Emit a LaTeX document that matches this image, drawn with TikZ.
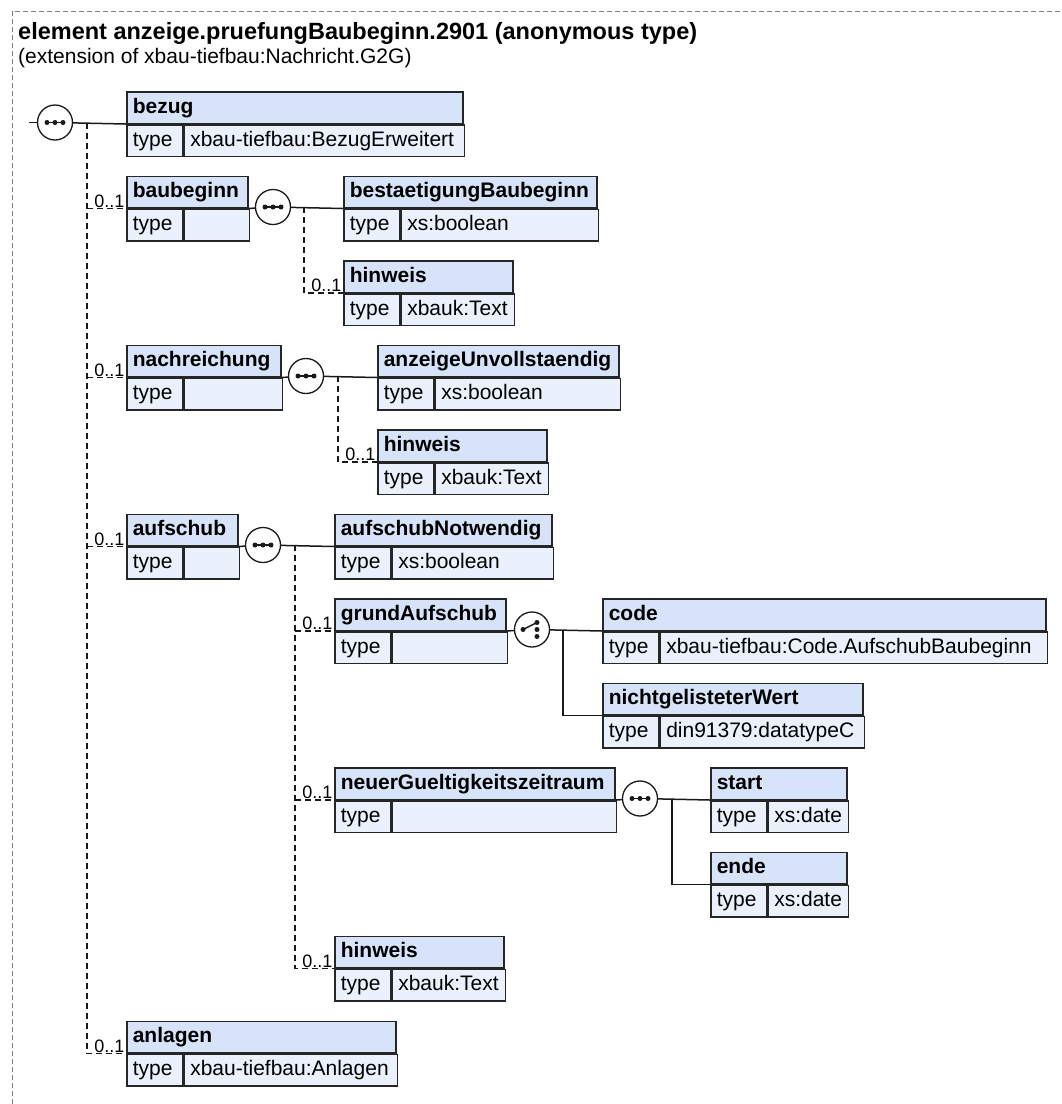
\documentclass[tikz,border=0pt]{standalone}
\usepackage{fontspec}
\setmainfont{Liberation Sans}
\usetikzlibrary{positioning,calc}

\definecolor{headblue}{RGB}{214,227,248}
\definecolor{rowblue}{RGB}{235,241,252}

\tikzset{
  boxline/.style={draw=black!85, line width=1.5pt},
  hdr/.style={boxline, fill=headblue, anchor=north west, minimum height=31.5pt,
    inner xsep=6pt, inner ysep=0pt, text height=15.5pt, text depth=4pt,
    font=\fontsize{21}{24}\selectfont\bfseries},
  cell/.style={boxline, fill=rowblue, anchor=north west, minimum height=31.5pt,
    inner xsep=6pt, inner ysep=0pt, text height=15.5pt, text depth=4pt,
    font=\fontsize{21}{24}\selectfont},
  conn/.style={line width=1.5pt, black!90},
  optconn/.style={conn, dash pattern=on 6pt off 4pt},
  occ/.style={anchor=south east, inner xsep=1.5pt, inner ysep=1pt,
    font=\fontsize{18}{20}\selectfont},
  border/.style={gray, line width=1pt, dash pattern=on 5pt off 3pt},
  seqsym/.style={circle, draw=black!90, line width=1.3pt, fill=white,
    minimum size=35pt, inner sep=0pt,
    path picture={
      \draw[black!90, line width=1.5pt] ([xshift=-10pt]path picture bounding box.center)
        -- ([xshift=10pt]path picture bounding box.center);
      \foreach \d in {-8,0,8}
        \fill[black!90] ([xshift=\d pt]path picture bounding box.center) circle (2.5pt);
    }},
  choicesym/.style={circle, draw=black!90, line width=1.3pt, fill=white,
    minimum size=35pt, inner sep=0pt,
    path picture={
      \draw[black!90, line width=1.5pt] ([shift={(-9pt,0pt)}]path picture bounding box.center)
        -- ([shift={(5pt,7pt)}]path picture bounding box.center);
      \foreach \p in {(-9pt,0pt),(5pt,7pt),(5pt,0pt),(5pt,-7pt)}
        \fill[black!90] ([shift={\p}]path picture bounding box.center) circle (2.5pt);
    }},
}

% one element box: name, left, top, width, title, type
\newcommand{\xbox}[6]{%
  \pgfmathsetmacro{\xhw}{#4-12}%
  \pgfmathsetmacro{\xvw}{#4-68}%
  \node[hdr, minimum width=#4pt] (#1) at (#2,#3) {\makebox[\xhw pt][l]{#5}};
  \node[cell, minimum width=56pt] (#1-t) at (#1.south west) {\makebox[44pt][l]{type}};
  \node[cell, minimum width=#4pt-56pt] (#1-v) at (#1-t.north east) {\makebox[\xvw pt][l]{#6}};
}

\begin{document}
\begin{tikzpicture}[x=1pt, y=-1pt]
  \useasboundingbox (0,0) rectangle (1062,1104);
  \draw[border] (12,1104) -- (12,11) -- (1062,11);

  \node[anchor=base west, inner sep=0pt, font=\fontsize{23.5}{27}\selectfont\bfseries]
    (title) at (18,39) {element anzeige.pruefungBaubeginn.2901 (anonymous type)};
  \node[anchor=base west, inner sep=0pt, font=\fontsize{21}{24}\selectfont]
    (subtitle) at (18,63) {(extension of xbau-tiefbau:Nachricht.G2G)};

  % element boxes
  \xbox{bezug}{126}{91}{336}{bezug}{xbau-tiefbau:BezugErweitert}
  \xbox{baubeginn}{126}{175.5}{121}{baubeginn}{}
  \xbox{bestaetigung}{343}{175.5}{253}{bestaetigungBaubeginn}{xs:boolean}
  \xbox{hinweisA}{343}{260}{169}{hinweis}{xbauk:Text}
  \xbox{nachreichung}{126}{344.5}{154}{nachreichung}{}
  \xbox{anzeige}{377}{344.5}{241}{anzeigeUnvollstaendig}{xs:boolean}
  \xbox{hinweisB}{377}{429}{169}{hinweis}{xbauk:Text}
  \xbox{aufschub}{126}{513.5}{111}{aufschub}{}
  \xbox{notwendig}{334}{513.5}{217}{aufschubNotwendig}{xs:boolean}
  \xbox{grund}{334}{598}{171}{grundAufschub}{}
  \xbox{code}{602}{598}{443}{code}{xbau-tiefbau:Code.AufschubBaubeginn}
  \xbox{nichtgelistet}{602}{682.5}{260}{nichtgelisteterWert}{din91379:datatypeC}
  \xbox{zeitraum}{334}{767}{280}{neuerGueltigkeitszeitraum}{}
  \xbox{start}{710}{767}{136}{start}{xs:date}
  \xbox{ende}{710}{851.5}{136}{ende}{xs:date}
  \xbox{hinweisC}{334}{935.5}{169}{hinweis}{xbauk:Text}
  \xbox{anlagen}{126}{1020.5}{269}{anlagen}{xbau-tiefbau:Anlagen}

  % compositors
  \coordinate (in) at (29,122.5);
  \node[seqsym] (s0) at (55,122.5) {};
  \coordinate (s0b) at (87,122.5);
  \node[seqsym] (s1) at (273,207) {};
  \coordinate (s1b) at (304,207);
  \node[seqsym] (s2) at (306,376) {};
  \coordinate (s2b) at (338,376);
  \node[seqsym] (s3) at (263,545) {};
  \coordinate (s3b) at (295,545);
  \node[choicesym] (c1) at (532,629.5) {};
  \coordinate (c1b) at (563,629.5);
  \node[seqsym] (s4) at (640,798.5) {};
  \coordinate (s4b) at (672,798.5);

  % top level sequence
  \draw[conn] (in) -- (s0);
  \draw[conn] (s0) -- (bezug.south west);
  \draw[optconn] (s0b) -- (s0b |- anlagen.south west) -- (anlagen.south west);
  \foreach \n in {baubeginn,nachreichung,aufschub}
    \draw[optconn] (s0b |- \n.south west) -- (\n.south west);

  % baubeginn
  \draw[conn] (baubeginn.south east) -- (s1);
  \draw[conn] (s1) -- (bestaetigung.south west);
  \draw[optconn] (s1b) |- (hinweisA.south west);

  % nachreichung
  \draw[conn] (nachreichung.south east) -- (s2);
  \draw[conn] (s2) -- (anzeige.south west);
  \draw[optconn] (s2b) |- (hinweisB.south west);

  % aufschub
  \draw[conn] (aufschub.south east) -- (s3);
  \draw[conn] (s3) -- (notwendig.south west);
  \draw[optconn] (s3b) -- (s3b |- hinweisC.south west) -- (hinweisC.south west);
  \foreach \n in {grund,zeitraum}
    \draw[optconn] (s3b |- \n.south west) -- (\n.south west);

  % grundAufschub choice
  \draw[conn] (grund.south east) -- (c1);
  \draw[conn] (c1) -- (code.south west);
  \draw[conn] (c1b) |- (nichtgelistet.south west);

  % neuerGueltigkeitszeitraum
  \draw[conn] (zeitraum.south east) -- (s4);
  \draw[conn] (s4) -- (start.south west);
  \draw[conn] (s4b) |- (ende.south west);

  % occurrences
  \foreach \n in {baubeginn,nachreichung,aufschub,anlagen,hinweisA,hinweisB,grund,zeitraum,hinweisC}
    \node[occ] (\n-o) at (\n.south west) {0..1};
\end{tikzpicture}
\end{document}
